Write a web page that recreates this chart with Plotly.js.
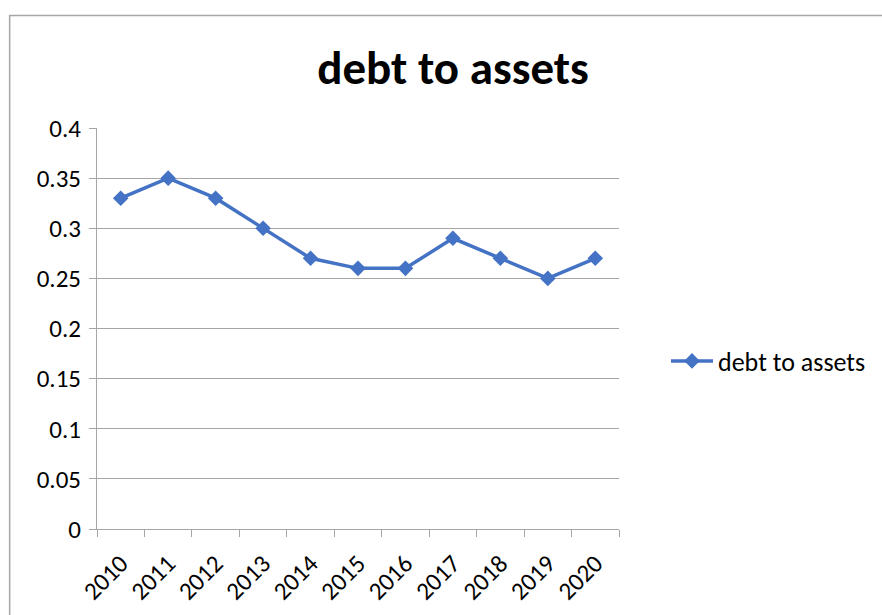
<!DOCTYPE html>
<html>
<head>
<meta charset="utf-8">
<script src="https://cdn.plot.ly/plotly-3.0.1.min.js"></script>
<style>html,body{margin:0;padding:0;background:#fff;}#chart{width:882px;height:615px;}</style>
</head>
<body>
<div id="chart"></div>
<script>
const years = ["2010","2011","2012","2013","2014","2015","2016","2017","2018","2019","2020"];
const debtToAssets = [0.33,0.35,0.33,0.30,0.27,0.26,0.26,0.29,0.27,0.25,0.27];
const yTickVals = [0,0.05,0.1,0.15,0.2,0.25,0.3,0.35,0.4];
const yTickText = ["0","0.05","0.1","0.15","0.2","0.25","0.3","0.35","0.4"];
const seriesName = "debt to assets";

const W = 882, H = 615, L = 97, R = 262, T = 128, B = 86;
const pw = W - L - R, ph = H - T - B;
const px = x => (x - L) / pw;
const py = y => (H - B - y) / ph;

const font = "Carlito, Calibri, 'Liberation Sans', Arial, sans-serif";

Plotly.newPlot('chart', [{
  x: years, y: debtToAssets, type: 'scatter', mode: 'lines+markers', name: seriesName,
  line: {color: '#4472C4', width: 3.5},
  marker: {symbol: 'diamond', size: 12, color: '#4472C4'}
}], {
  width: W, height: H,
  margin: {l: L, r: R, t: T, b: B},
  paper_bgcolor: '#fff', plot_bgcolor: '#fff',
  font: {family: font, color: '#000', size: 25},
  title: {text: '<b>debt to assets</b>', font: {size: 47, family: font, color: '#000'},
          xref: 'container', yref: 'container', x: 453/W, y: 1 - 68/H, xanchor: 'center', yanchor: 'middle'},
  showlegend: true,
  legend: {x: px(666), y: py(361), xanchor: 'left', yanchor: 'middle', itemwidth: 42,
           font: {size: 26, family: font}, bgcolor: 'rgba(0,0,0,0)'},
  xaxis: {type: 'category', range: [-0.5, 10.5], tickson: 'boundaries', ticks: 'outside', ticklen: 7, tickcolor: '#a6a6a6',
          showline: true, linecolor: '#a6a6a6', linewidth: 1, showgrid: false, zeroline: false, tickangle: -45,
          tickfont: {size: 25, family: font}, ticklabelstandoff: 9, fixedrange: true},
  yaxis: {range: [0, 0.4], tickvals: yTickVals, ticktext: yTickText, ticks: 'outside', ticklen: 7, tickcolor: '#a6a6a6',
          showline: true, linecolor: '#a6a6a6', linewidth: 1, showgrid: true, gridcolor: '#a6a6a6', gridwidth: 1,
          zeroline: false, tickfont: {size: 25, family: font}, ticklabelstandoff: 3},
  shapes: [{type: 'rect', xref: 'paper', yref: 'paper', x0: px(9.5), x1: px(890), y0: py(620), y1: py(15.5),
            line: {color: '#a6a6a6', width: 1.5}, fillcolor: 'rgba(0,0,0,0)', layer: 'below'}]
}, {staticPlot: true});
</script>
</body>
</html>
